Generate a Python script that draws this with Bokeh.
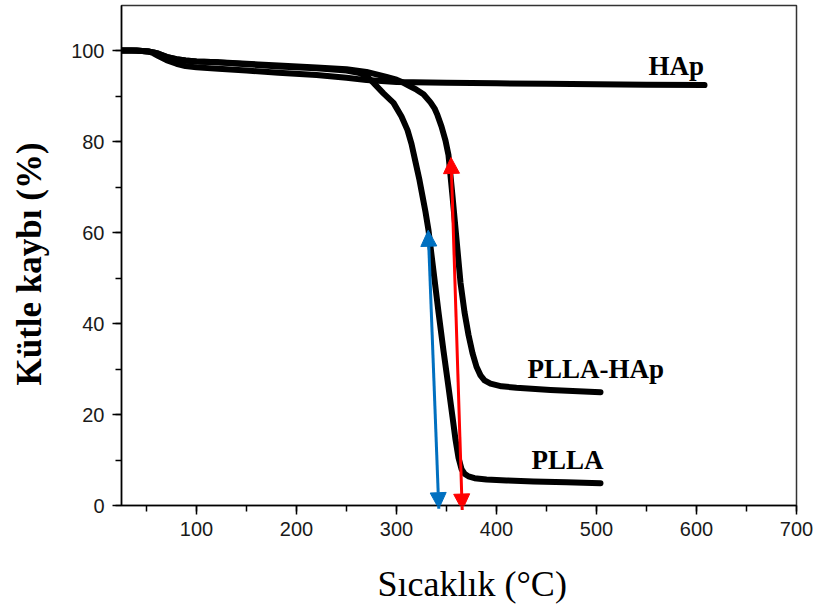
from bokeh.plotting import figure
from bokeh.models import Range1d, SingleIntervalTicker, Label, Arrow, NormalHead, Title
from bokeh.embed import file_html
from bokeh.resources import INLINE

# ---- data ----
hap_x = [25, 35, 45, 52, 57, 62, 70, 80, 89, 100, 122, 150, 182, 220, 250, 270, 300, 350, 400, 450, 500, 550, 608]
hap_y = [100, 100, 99.9, 99.8, 99.4, 98.8, 97.9, 97.1, 96.6, 96.3, 96.0, 95.6, 95.1, 94.6, 94.0, 93.5, 93.1, 92.9, 92.8, 92.7, 92.6, 92.5, 92.4]

plla_x = [25, 40, 52, 57, 62, 70, 80, 89, 100, 122, 150, 182, 220, 250, 262, 270, 277, 287, 297, 305, 311, 315, 319, 323, 326, 329, 332, 337, 342, 347, 352, 356, 359, 362, 365, 368, 372, 378, 390, 410, 437, 470, 504]
plla_y = [100, 100, 99.8, 99.6, 99.3, 98.6, 98.1, 97.8, 97.6, 97.4, 97.0, 96.5, 96.1, 95.6, 95.1, 94.4, 92.9, 90.6, 88.5, 85.5, 82.5, 79.5, 75.5, 71.5, 68.0, 64.5, 60.5, 51.5, 42.5, 34.0, 26.0, 19.5, 14.5, 10.5, 8.0, 7.0, 6.4, 6.0, 5.7, 5.5, 5.3, 5.1, 4.9]

pllahap_x = [25, 40, 52, 57, 62, 70, 80, 89, 100, 122, 150, 182, 220, 250, 270, 290, 300, 307, 314, 320, 327, 334, 338, 341, 345, 349, 352, 356, 360, 364, 368, 372, 376, 380, 384, 388, 394, 405, 420, 454, 504]
pllahap_y = [100, 100, 99.8, 99.6, 99.3, 98.6, 98.1, 97.8, 97.6, 97.4, 97.1, 96.7, 96.3, 95.9, 95.3, 94.2, 93.6, 92.9, 92.1, 91.4, 90.4, 88.6, 87.3, 85.8, 83.3, 80.2, 77.0, 68.0, 58.5, 49.0, 42.5, 37.5, 33.5, 30.5, 28.6, 27.5, 26.8, 26.2, 25.9, 25.4, 24.9]

# double-headed arrows: (x_start, y_start, x_end, y_end)
blue_arrow = [342.3, -0.7, 331.7, 60.5]
red_arrow = [365.7, -1.0, 354.5, 76.5]

# curve labels
label_texts = ["HAp", "PLLA-HAp", "PLLA"]
label_x = [552, 431, 435]
label_y = [96.6, 29.9, 10.1]

x_title = "Sıcaklık (°C)"
y_title = "Kütle kaybı (%)"

# ---- figure ----
p = figure(width=813, height=607, output_backend="svg", toolbar_location=None,
           x_range=Range1d(25, 700), y_range=Range1d(0, 109.9),
           min_border_left=121, min_border_right=17, min_border_top=5, min_border_bottom=102)
p.grid.visible = False
p.background_fill_color = "white"
p.border_fill_color = "white"
p.outline_line_color = "#333333"
p.outline_line_width = 1.5

for ax in (p.xaxis[0], p.yaxis[0]):
    ax.axis_line_color = "black"
    ax.axis_line_width = 1.5
    ax.major_tick_line_color = "black"
    ax.minor_tick_line_color = "black"
    ax.major_tick_line_width = 1.5
    ax.minor_tick_line_width = 1.5
    ax.major_tick_in = 0
    ax.major_tick_out = 9
    ax.minor_tick_in = 0
    ax.minor_tick_out = 6
    ax.major_label_text_font = "Liberation Sans"
    ax.major_label_text_font_size = "20px"
    ax.major_label_text_color = "#1a1a1a"

p.xaxis[0].ticker = SingleIntervalTicker(interval=100, num_minor_ticks=2)
p.yaxis[0].ticker = SingleIntervalTicker(interval=20, num_minor_ticks=2)
p.xaxis[0].major_label_standoff = 7
p.yaxis[0].major_label_standoff = 8
# blank spacers between tick labels and titles
p.xaxis[0].axis_label = " "
p.xaxis[0].axis_label_text_font_size = "14px"
p.xaxis[0].axis_label_standoff = 3
p.yaxis[0].axis_label = " "
p.yaxis[0].axis_label_text_font_size = "12px"
p.yaxis[0].axis_label_standoff = 2

lw = 6
for xs, ys in ((hap_x, hap_y), (plla_x, plla_y), (pllahap_x, pllahap_y)):
    p.line(xs, ys, line_width=lw, color="black", line_cap="round", line_join="round")

for arr, col in ((blue_arrow, "#0070C0"), (red_arrow, "#FF0000")):
    p.add_layout(Arrow(
        start=NormalHead(size=16, fill_color=col, line_color=col),
        end=NormalHead(size=16, fill_color=col, line_color=col),
        x_start=arr[0], y_start=arr[1], x_end=arr[2], y_end=arr[3],
        line_color=col, line_width=3))

for t, x, y in zip(label_texts, label_x, label_y):
    p.add_layout(Label(x=x, y=y, text=t, text_font="Liberation Serif",
                       text_font_style="bold", text_font_size="27px",
                       text_color="black", text_baseline="alphabetic", text_align="left"))

p.add_layout(Title(text=x_title, align="left", offset=256, standoff=2,
                   text_font="Liberation Serif", text_font_style="normal",
                   text_font_size="36px", text_color="black"), "below")
p.add_layout(Title(text=y_title, align="left", offset=120, standoff=2,
                   text_font="Liberation Serif", text_font_style="bold",
                   text_font_size="35px", text_color="black"), "left")

open("out.html", "w").write(file_html(p, INLINE))
